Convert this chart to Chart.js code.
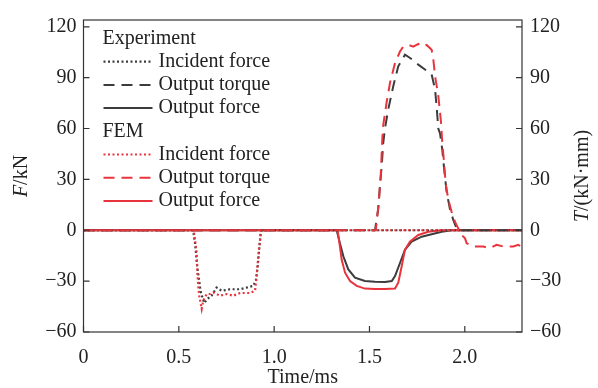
<!DOCTYPE html>
<html>
<head>
<meta charset="utf-8">
<script src="https://cdn.jsdelivr.net/npm/chart.js@4"></script>
<style>
  body { margin: 0; background: #fff; }
  canvas { display: block; }
</style>
</head>
<body>
<canvas id="myChart" width="598" height="388"></canvas>
<script>
// tick labels
var xTickLabels = ['0', '0.5', '1.0', '1.5', '2.0'];
var yTickLabels = ['\u221260', '\u221230', '0', '30', '60', '90', '120'];

// Experiment, incident force (kN)
var expIncT = [0, 0.575, 0.585, 0.596, 0.606, 0.614, 0.633, 0.65, 0.672, 0.698, 0.725, 0.768, 0.82, 0.856, 0.891, 0.905, 0.914, 0.921, 0.93, 0.935, 2.3];
var expIncF = [0, 0, -7.7, -21, -29, -36, -42.9, -40.5, -38.6, -33.8, -35.7, -34.8, -34.8, -33.8, -32.8, -29, -21, -11.5, -1, 0, 0];

// FEM, incident force (kN)
var femIncT = [0, 0.578, 0.594, 0.597, 0.602, 0.607, 0.62, 0.628, 0.646, 0.663, 0.681, 0.716, 0.751, 0.786, 0.821, 0.873, 0.9, 0.908, 0.917, 0.926, 0.931, 2.3];
var femIncF = [0, 0, -13.5, -25, -32.8, -38.6, -46.3, -41.5, -37.6, -37.6, -36.7, -38.6, -37.6, -38.6, -37, -37, -35.7, -27, -15.4, -5.7, 0, 0];

// Experiment, output force (kN)
var expOutT = [0, 1.328, 1.345, 1.363, 1.389, 1.424, 1.476, 1.529, 1.581, 1.617, 1.634, 1.66, 1.686, 1.721, 1.774, 1.826, 1.879, 1.931, 2.3];
var expOutF = [0, 0, -7.7, -15.4, -23.1, -28, -29.9, -30.3, -30.5, -29.9, -27, -19.3, -11.5, -6.7, -3.8, -2.3, -0.9, 0, 0];

// FEM, output force (kN)
var femOutT = [0, 1.333, 1.345, 1.354, 1.372, 1.398, 1.433, 1.476, 1.529, 1.581, 1.634, 1.651, 1.669, 1.686, 1.712, 1.756, 1.809, 1.879, 2.3];
var femOutF = [0, 0, -9.6, -17.3, -25, -29.9, -32.8, -34.4, -34.7, -34.7, -34.4, -30.9, -21.2, -11.5, -6.7, -2.8, -0.9, 0, 0];

// Experiment, output torque (kN*mm)
var expTqT = [0, 1.529, 1.546, 1.555, 1.564, 1.572, 1.581, 1.599, 1.625, 1.651, 1.686, 1.713, 1.756, 1.791, 1.826, 1.844, 1.853, 1.861, 1.87, 1.882, 1.892, 1.905, 1.922, 1.94, 1.957, 1.966, 2.3];
var expTq = [0, 0, 12.6, 26.2, 37.8, 51.3, 60, 71.6, 85.1, 96.7, 103.5, 101.6, 97.7, 94.8, 91.9, 83.2, 71.6, 60, 57.1, 47.4, 35.8, 22.3, 12.6, 5.9, 1, 0, 0];

// FEM, output torque (kN*mm)
var femTqT = [0, 1.533, 1.538, 1.55, 1.559, 1.564, 1.567, 1.572, 1.59, 1.608, 1.634, 1.66, 1.677, 1.704, 1.73, 1.756, 1.774, 1.8, 1.826, 1.835, 1.844, 1.861, 1.875, 1.882, 1.89, 1.899, 1.913, 1.931, 1.949, 1.966, 1.984, 2.001, 2.01, 2.045, 2.097, 2.132, 2.167, 2.202, 2.254, 2.281, 2.3];
var femTq = [0, 0, 4.9, 18.4, 32, 45.5, 53.2, 61.9, 75.5, 87.1, 98.7, 105.4, 108.3, 109.3, 108.3, 109.9, 108.3, 109.3, 106.4, 100.6, 90.9, 79.3, 63.9, 51.3, 41.6, 28.1, 18.4, 10.7, 4.9, 1, -2.8, -4.8, -7.7, -9.6, -9.6, -10.6, -8.6, -9.6, -9.6, -8.6, -10];

var GRAY = '#3c3c3c';
var RED = '#e8343c';
var DOT = [2, 2.5];
var DASH = [11, 7];
var SERIF = "'Liberation Serif', 'Times New Roman', serif";

function pts(t, v) {
  return t.map(function (x, i) { return { x: x, y: v[i] }; });
}

function line(data, color, dash, width, axis, order) {
  return {
    data: data,
    borderColor: color,
    borderWidth: width,
    borderDash: dash,
    pointRadius: 0,
    tension: 0,
    fill: false,
    yAxisID: axis,
    order: order
  };
}

// frame, inward ticks, axis titles and the legend
var decorations = {
  id: 'decorations',
  afterDatasetsDraw: function (chart) {
    var ctx = chart.ctx;
    var a = chart.chartArea;
    var sx = chart.scales.x, sy = chart.scales.y, sy2 = chart.scales.y2;
    ctx.save();
    ctx.strokeStyle = '#333';
    ctx.lineWidth = 1.2;
    ctx.setLineDash([]);
    ctx.strokeRect(a.left, a.top, a.right - a.left, a.bottom - a.top);
    ctx.beginPath();
    sx.ticks.forEach(function (t) {
      var x = sx.getPixelForValue(t.value);
      ctx.moveTo(x, a.bottom); ctx.lineTo(x, a.bottom - 6);
    });
    sy.ticks.forEach(function (t) {
      var y = sy.getPixelForValue(t.value);
      ctx.moveTo(a.left, y); ctx.lineTo(a.left + 6, y);
    });
    sy2.ticks.forEach(function (t) {
      var y = sy2.getPixelForValue(t.value);
      ctx.moveTo(a.right, y); ctx.lineTo(a.right - 6, y);
    });
    ctx.stroke();

    ctx.fillStyle = '#222';
    ctx.textBaseline = 'middle';
    var midY = (a.top + a.bottom) / 2;

    function mixed(parts, cx, cy, rot) {
      var w = 0;
      parts.forEach(function (p) { ctx.font = p[1] + ' 20px ' + SERIF; w += ctx.measureText(p[0]).width; });
      ctx.save();
      ctx.translate(cx, cy);
      ctx.rotate(rot);
      var x = -w / 2;
      ctx.textAlign = 'left';
      parts.forEach(function (p) {
        ctx.font = p[1] + ' 20px ' + SERIF;
        ctx.fillText(p[0], x, 0);
        x += ctx.measureText(p[0]).width;
      });
      ctx.restore();
    }
    mixed([['F', 'italic'], ['/kN', 'normal']], 22, midY, -Math.PI / 2);
    mixed([['T', 'italic'], ['/(kN\u00b7mm)', 'normal']], 583, midY, -Math.PI / 2);
    mixed([['Time/ms', 'normal']], (a.left + a.right) / 2, 378, 0);

    // legend
    var items = [
      { head: 'Experiment' },
      { label: 'Incident force', color: GRAY, dash: DOT, w: 2.2 },
      { label: 'Output torque', color: GRAY, dash: DASH, w: 2 },
      { label: 'Output force', color: GRAY, dash: [], w: 2 },
      { head: 'FEM' },
      { label: 'Incident force', color: RED, dash: DOT, w: 2.2 },
      { label: 'Output torque', color: RED, dash: DASH, w: 2 },
      { label: 'Output force', color: RED, dash: [], w: 2 }
    ];
    ctx.font = '20px ' + SERIF;
    ctx.textAlign = 'left';
    items.forEach(function (it, i) {
      var y = a.top + 18.5 + i * 23.2;
      if (it.head) {
        ctx.fillStyle = '#222';
        ctx.fillText(it.head, a.left + 19, y);
        return;
      }
      ctx.beginPath();
      ctx.strokeStyle = it.color;
      ctx.lineWidth = it.w;
      ctx.setLineDash(it.dash);
      ctx.moveTo(a.left + 20, y);
      ctx.lineTo(a.left + 69, y);
      ctx.stroke();
      ctx.setLineDash([]);
      ctx.fillStyle = '#222';
      ctx.fillText(it.label, a.left + 75, y);
    });
    ctx.restore();
  }
};

document.addEventListener('DOMContentLoaded', function () {
  var ctx = document.getElementById('myChart').getContext('2d');
  new Chart(ctx, {
    type: 'line',
    data: {
      datasets: [
        line(pts(femTqT, femTq), RED, DASH, 2, 'y2', 1),
        line(pts(expTqT, expTq), GRAY, DASH, 2, 'y2', 2),
        line(pts(femIncT, femIncF), RED, DOT, 2.2, 'y', 3),
        line(pts(expIncT, expIncF), GRAY, DOT, 2.2, 'y', 4),
        line(pts(femOutT, femOutF), RED, [], 2, 'y', 5),
        line(pts(expOutT, expOutF), GRAY, [], 2, 'y', 6)
      ]
    },
    options: {
      responsive: false,
      animation: false,
      layout: { padding: { top: 15, left: 0, right: 0, bottom: 0 } },
      plugins: { legend: { display: false }, tooltip: { enabled: false } },
      scales: {
        x: {
          type: 'linear',
          min: 0, max: 2.3,
          grid: { display: false, drawTicks: false },
          border: { display: false },
          ticks: {
            stepSize: 0.5, includeBounds: false, padding: 14,
            color: '#222', font: { family: SERIF, size: 20 },
            callback: function (v, i) { return xTickLabels[i]; }
          },
          afterFit: function (s) { s.height = 56; }
        },
        y: {
          position: 'left',
          min: -60, max: 124,
          grid: { display: false, drawTicks: false },
          border: { display: false },
          ticks: {
            stepSize: 30, includeBounds: false, padding: 7,
            color: '#222', font: { family: SERIF, size: 20 },
            callback: function (v, i) { return yTickLabels[i]; }
          },
          afterFit: function (s) { s.width = 83.5; }
        },
        y2: {
          position: 'right',
          min: -60, max: 124,
          grid: { display: false, drawTicks: false },
          border: { display: false },
          ticks: {
            stepSize: 30, includeBounds: false, padding: 8,
            color: '#222', font: { family: SERIF, size: 20 },
            callback: function (v, i) { return yTickLabels[i]; }
          },
          afterFit: function (s) { s.width = 76; }
        }
      }
    },
    plugins: [decorations]
  });
});
</script>
</body>
</html>
